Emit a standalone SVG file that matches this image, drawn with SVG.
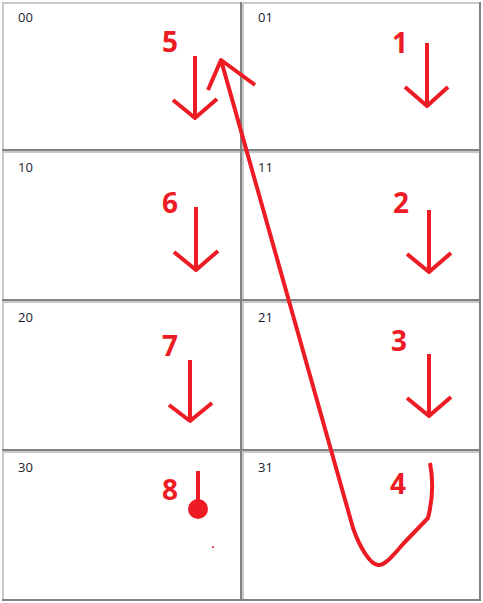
<svg xmlns="http://www.w3.org/2000/svg" width="483" height="603" viewBox="0 0 483 603">
<style>
.lt{stroke:#c8c8c8;stroke-width:2;fill:none}
.dk{stroke:#828282;stroke-width:2;fill:none}
.lbl{font-family:"Open Sans","Noto Sans",sans-serif;font-size:13px;fill:#1b1b2f}
.num{font-family:"Open Sans","DejaVu Sans",sans-serif;font-size:28px;font-weight:bold;fill:#ed1c24}
.ink{stroke:#ed1c24;stroke-width:4;fill:none;stroke-linecap:butt;stroke-linejoin:round}
</style>
<rect width="483" height="603" fill="#fff"/>
<g id="cell00"><path class="lt" d="M3,150V3H241"/><path class="dk" d="M241,2V150H2"/><text class="lbl" x="18" y="22">00</text></g>
<g id="cell01"><path class="lt" d="M243,150V3H480"/><path class="dk" d="M480,2V150H242"/><text class="lbl" x="258" y="22">01</text></g>
<g id="cell10"><path class="lt" d="M3,300V152H241"/><path class="dk" d="M241,151V300H2"/><text class="lbl" x="18" y="172">10</text></g>
<g id="cell11"><path class="lt" d="M243,300V152H480"/><path class="dk" d="M480,151V300H242"/><text class="lbl" x="258" y="172">11</text></g>
<g id="cell20"><path class="lt" d="M3,450V302H241"/><path class="dk" d="M241,301V450H2"/><text class="lbl" x="18" y="322">20</text></g>
<g id="cell21"><path class="lt" d="M243,450V302H480"/><path class="dk" d="M480,301V450H242"/><text class="lbl" x="258" y="322">21</text></g>
<g id="cell30"><path class="lt" d="M3,600V452H241"/><path class="dk" d="M241,451V600H2"/><text class="lbl" x="18" y="472">30</text></g>
<g id="cell31"><path class="lt" d="M243,600V452H480"/><path class="dk" d="M480,451V600H242"/><text class="lbl" x="258" y="472">31</text></g>
<g id="numbers">
<text class="num" x="162" y="52">5</text>
<text class="num" x="392" y="53">1</text>
<text class="num" x="162" y="213">6</text>
<text class="num" x="393" y="213">2</text>
<text class="num" x="162" y="356">7</text>
<text class="num" x="391" y="351">3</text>
<text class="num" x="162" y="500">8</text>
<text class="num" x="390" y="494">4</text>
</g>
<g id="connectors">
<path class="ink" d="M195,56V118M173,100L195,118L217,99"/>
<path class="ink" d="M427,43V106M405,87L427,106L448,87"/>
<path class="ink" d="M196,207V270M174,252L196,270L218,251"/>
<path class="ink" d="M429,210V272M407,254L429,272L451,253"/>
<path class="ink" d="M190,360V421M169,405L190,421L212,403"/>
<path class="ink" d="M429,354V416M407,398L429,416L451,397"/>
<path class="ink" d="M198,471V505"/>
<circle cx="198" cy="509" r="10" fill="#ed1c24"/>
<circle cx="213" cy="547" r="1" fill="#ed1c24"/>
<path class="ink" d="M430,463C433,478 433,498 428,518L403,544C392,557 384,566 378,565C370,564 360,548 353,528L221,60M208,90L221,60L255,85"/>
</g>
</svg>
